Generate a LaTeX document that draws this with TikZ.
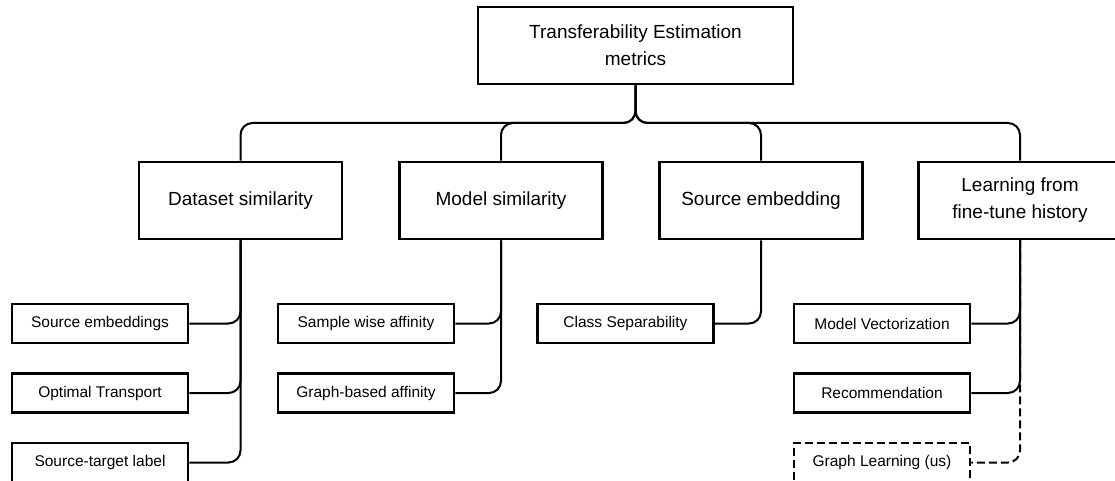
\documentclass[tikz,border=0pt]{standalone}
\usepackage{fontspec}
\setmainfont{Liberation Sans}
\begin{document}
\begin{tikzpicture}[x=1pt,y=-1pt,
	bigbox/.style={draw,line width=2.7pt,minimum width=203pt,minimum height=77pt,inner sep=0pt,align=center,font=\fontsize{19}{27}\selectfont},
	smallbox/.style={draw,line width=2.7pt,minimum width=176pt,minimum height=39pt,inner sep=0pt,font=\fontsize{15.5}{19}\selectfont},
	conn/.style={line width=2pt,rounded corners=12pt}]
		\useasboundingbox (0,0) rectangle (1115,481);
		\node[bigbox,minimum width=315pt] (top) at (635.5,45.5) {Transferability Estimation\\metrics};
		\node[bigbox] (data) at (240.5,200.5) {Dataset similarity};
		\node[bigbox] (model) at (501,200.5) {Model similarity};
		\node[bigbox] (emb) at (761,200.5) {Source embedding};
		\node[bigbox] (hist) at (1020,200.5) {Learning from\\fine-tune history};
		\node[smallbox] (data1) at (100,323.5) {Source embeddings};
		\node[smallbox] (data2) at (100,393) {Optimal Transport};
		\node[smallbox] (data3) at (100,462.5) {Source-target label};
		\node[smallbox] (model1) at (366,323.5) {Sample wise affinity};
		\node[smallbox] (model2) at (366,393) {Graph-based affinity};
		\node[smallbox] (emb1) at (625.5,323.5) {Class Separability};
		\node[smallbox] (hist1) at (882,323.5) {Model Vectorization};
		\node[smallbox] (hist2) at (882,393) {Recommendation};
		\node[smallbox,dash pattern=on 8pt off 4pt] (hist3) at (882,462.5) {Graph Learning (us)};
		\coordinate (bar) at (635.5,123);
		\draw[conn,dash pattern=on 8pt off 4pt] (hist.south) |- (hist3.east);
		\draw[conn] (top.south) -- (bar) -| (data.north);
		\draw[conn] (top.south) -- (bar) -| (model.north);
		\draw[conn] (top.south) -- (bar) -| (emb.north);
		\draw[conn] (top.south) -- (bar) -| (hist.north);
		\draw[conn] (data.south) |- (data1.east);
		\draw[conn] (data.south) |- (data2.east);
		\draw[conn] (data.south) |- (data3.east);
		\draw[conn] (model.south) |- (model1.east);
		\draw[conn] (model.south) |- (model2.east);
		\draw[conn] (emb.south) |- (emb1.east);
		\draw[conn] (hist.south) |- (hist1.east);
		\draw[conn] (hist.south) |- (hist2.east);
\end{tikzpicture}
\end{document}
